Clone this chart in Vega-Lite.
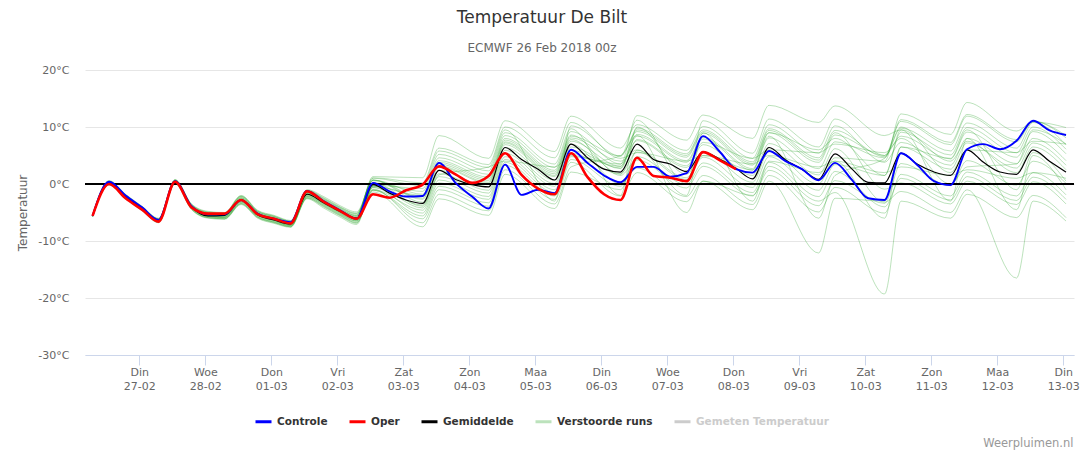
{
  "$schema": "https://vega.github.io/schema/vega-lite/v6.json",
  "width": 989,
  "height": 285,
  "autosize": {"type": "none"},
  "padding": {"left": 85, "top": 70, "right": 10, "bottom": 95},
  "background": "white",
  "config": {"font": "DejaVu Sans", "view": {"stroke": null}},
  "title": {
    "text": "Temperatuur De Bilt",
    "subtitle": "ECMWF 26 Feb 2018 00z",
    "anchor": "middle", "frame": "group", "dx": -37.5, "offset": 9,
    "fontSize": 17, "fontWeight": "normal", "color": "#333333",
    "subtitleFontSize": 12, "subtitleColor": "#666666", "subtitlePadding": 16
  },
  "datasets": {
    "main": [
      {"t":7,"k":"Gemiddelde","v":-5.6},{"t":13,"k":"Gemiddelde","v":0.2},{"t":19,"k":"Gemiddelde","v":-2.2},{"t":25,"k":"Gemiddelde","v":-4.3},{"t":31,"k":"Gemiddelde","v":-6.4},{"t":37,"k":"Gemiddelde","v":0.4},{"t":43,"k":"Gemiddelde","v":-4.0},{"t":49,"k":"Gemiddelde","v":-5.6},{"t":55,"k":"Gemiddelde","v":-5.5},{"t":61,"k":"Gemiddelde","v":-2.8},
      {"t":67,"k":"Gemiddelde","v":-5.4},{"t":73,"k":"Gemiddelde","v":-6.3},{"t":79,"k":"Gemiddelde","v":-7.0},{"t":85,"k":"Gemiddelde","v":-1.8},{"t":91,"k":"Gemiddelde","v":-3.3},{"t":97,"k":"Gemiddelde","v":-4.8},{"t":103,"k":"Gemiddelde","v":-6.0},{"t":109,"k":"Gemiddelde","v":-0.1},{"t":115,"k":"Gemiddelde","v":-1.6},{"t":121,"k":"Gemiddelde","v":-2.8},
      {"t":127,"k":"Gemiddelde","v":-3.4},{"t":133,"k":"Gemiddelde","v":2.4},{"t":139,"k":"Gemiddelde","v":0.8},{"t":145,"k":"Gemiddelde","v":-0.1},{"t":151,"k":"Gemiddelde","v":-0.5},{"t":157,"k":"Gemiddelde","v":6.4},{"t":163,"k":"Gemiddelde","v":4.3},{"t":169,"k":"Gemiddelde","v":2.6},{"t":175,"k":"Gemiddelde","v":0.7},{"t":181,"k":"Gemiddelde","v":7.0},
      {"t":187,"k":"Gemiddelde","v":4.6},{"t":193,"k":"Gemiddelde","v":2.6},{"t":199,"k":"Gemiddelde","v":2.1},{"t":205,"k":"Gemiddelde","v":7.0},{"t":211,"k":"Gemiddelde","v":4.3},{"t":217,"k":"Gemiddelde","v":3.5},{"t":223,"k":"Gemiddelde","v":2.2},{"t":229,"k":"Gemiddelde","v":5.6},{"t":235,"k":"Gemiddelde","v":4.4},{"t":241,"k":"Gemiddelde","v":2.7},
      {"t":247,"k":"Gemiddelde","v":0.9},{"t":253,"k":"Gemiddelde","v":6.4},{"t":259,"k":"Gemiddelde","v":4.2},{"t":265,"k":"Gemiddelde","v":2.6},{"t":271,"k":"Gemiddelde","v":0.8},{"t":277,"k":"Gemiddelde","v":5.3},{"t":283,"k":"Gemiddelde","v":2.7},{"t":289,"k":"Gemiddelde","v":0.3},{"t":295,"k":"Gemiddelde","v":0.2},{"t":301,"k":"Gemiddelde","v":5.4},
      {"t":307,"k":"Gemiddelde","v":3.45},{"t":313,"k":"Gemiddelde","v":2.1},{"t":319,"k":"Gemiddelde","v":1.5},{"t":325,"k":"Gemiddelde","v":6.0},{"t":331,"k":"Gemiddelde","v":3.8},{"t":337,"k":"Gemiddelde","v":2.1},{"t":343,"k":"Gemiddelde","v":1.7},{"t":349,"k":"Gemiddelde","v":6.0},{"t":355,"k":"Gemiddelde","v":4.0},{"t":361,"k":"Gemiddelde","v":2.1},
      {"t":7,"k":"Controle","v":-5.6},{"t":13,"k":"Controle","v":0.4},{"t":19,"k":"Controle","v":-2.0},{"t":25,"k":"Controle","v":-4.1},{"t":31,"k":"Controle","v":-6.3},{"t":37,"k":"Controle","v":0.5},{"t":43,"k":"Controle","v":-3.9},{"t":49,"k":"Controle","v":-5.3},{"t":55,"k":"Controle","v":-5.3},{"t":61,"k":"Controle","v":-2.8},
      {"t":67,"k":"Controle","v":-5.2},{"t":73,"k":"Controle","v":-6.1},{"t":79,"k":"Controle","v":-6.7},{"t":85,"k":"Controle","v":-1.2},{"t":91,"k":"Controle","v":-3.0},{"t":97,"k":"Controle","v":-4.6},{"t":103,"k":"Controle","v":-6.1},{"t":109,"k":"Controle","v":0.2},{"t":115,"k":"Controle","v":-1.3},{"t":121,"k":"Controle","v":-2.2},
      {"t":127,"k":"Controle","v":-2.1},{"t":133,"k":"Controle","v":3.7},{"t":139,"k":"Controle","v":0.2},{"t":145,"k":"Controle","v":-2.2},{"t":151,"k":"Controle","v":-4.3},{"t":157,"k":"Controle","v":3.4},{"t":163,"k":"Controle","v":-1.9},{"t":169,"k":"Controle","v":-1.0},{"t":175,"k":"Controle","v":-1.6},{"t":181,"k":"Controle","v":6.0},
      {"t":187,"k":"Controle","v":3.7},{"t":193,"k":"Controle","v":1.5},{"t":199,"k":"Controle","v":0.3},{"t":205,"k":"Controle","v":3.0},{"t":211,"k":"Controle","v":3.0},{"t":217,"k":"Controle","v":1.3},{"t":223,"k":"Controle","v":1.9},{"t":229,"k":"Controle","v":8.4},{"t":235,"k":"Controle","v":5.7},{"t":241,"k":"Controle","v":2.6},
      {"t":247,"k":"Controle","v":2.0},{"t":253,"k":"Controle","v":5.8},{"t":259,"k":"Controle","v":4.0},{"t":265,"k":"Controle","v":2.6},{"t":271,"k":"Controle","v":0.65},{"t":277,"k":"Controle","v":3.7},{"t":283,"k":"Controle","v":0.8},{"t":289,"k":"Controle","v":-2.5},{"t":295,"k":"Controle","v":-2.8},{"t":301,"k":"Controle","v":5.4},
      {"t":307,"k":"Controle","v":3.3},{"t":313,"k":"Controle","v":0.5},{"t":319,"k":"Controle","v":-0.2},{"t":325,"k":"Controle","v":6.1},{"t":331,"k":"Controle","v":7.0},{"t":337,"k":"Controle","v":6.1},{"t":343,"k":"Controle","v":7.6},{"t":349,"k":"Controle","v":11.1},{"t":355,"k":"Controle","v":9.4},{"t":361,"k":"Controle","v":8.6},
      {"t":7,"k":"Oper","v":-5.6},{"t":13,"k":"Oper","v":0.0},{"t":19,"k":"Oper","v":-2.5},{"t":25,"k":"Oper","v":-4.5},{"t":31,"k":"Oper","v":-6.6},{"t":37,"k":"Oper","v":0.4},{"t":43,"k":"Oper","v":-4.1},{"t":49,"k":"Oper","v":-5.2},{"t":55,"k":"Oper","v":-5.2},{"t":61,"k":"Oper","v":-2.8},
      {"t":67,"k":"Oper","v":-5.3},{"t":73,"k":"Oper","v":-6.1},{"t":79,"k":"Oper","v":-6.9},{"t":85,"k":"Oper","v":-1.3},{"t":91,"k":"Oper","v":-3.1},{"t":97,"k":"Oper","v":-4.7},{"t":103,"k":"Oper","v":-6.1},{"t":109,"k":"Oper","v":-1.8},{"t":115,"k":"Oper","v":-2.4},{"t":121,"k":"Oper","v":-1.1},
      {"t":127,"k":"Oper","v":-0.1},{"t":133,"k":"Oper","v":3.1},{"t":139,"k":"Oper","v":1.7},{"t":145,"k":"Oper","v":0.2},{"t":151,"k":"Oper","v":1.4},{"t":157,"k":"Oper","v":5.4},{"t":163,"k":"Oper","v":1.6},{"t":169,"k":"Oper","v":-0.8},{"t":175,"k":"Oper","v":-1.8},{"t":181,"k":"Oper","v":5.4},
      {"t":187,"k":"Oper","v":1.2},{"t":193,"k":"Oper","v":-1.8},{"t":199,"k":"Oper","v":-2.8},{"t":205,"k":"Oper","v":4.6},{"t":211,"k":"Oper","v":1.4},{"t":217,"k":"Oper","v":1.1},{"t":223,"k":"Oper","v":0.5},{"t":229,"k":"Oper","v":5.6},{"t":235,"k":"Oper","v":4.2},{"t":241,"k":"Oper","v":2.6}
    ],
    "ens": [
      {"t":7,"m":1,"v":-5.5},{"t":13,"m":1,"v":0.3},{"t":31,"m":1,"v":-6.2},{"t":37,"m":1,"v":0.5},{"t":55,"m":1,"v":-5.3},{"t":61,"m":1,"v":-2.4},{"t":79,"m":1,"v":-6.7},{"t":85,"m":1,"v":-1.4},{"t":103,"m":1,"v":-5.5},{"t":109,"m":1,"v":1.0},{"t":127,"m":1,"v":-0.3},{"t":133,"m":1,"v":5.8},{"t":151,"m":1,"v":2.9},{"t":157,"m":1,"v":9.5},{"t":175,"m":1,"v":-3.0},{"t":181,"m":1,"v":10.2},{"t":199,"m":1,"v":4.9},{"t":205,"m":1,"v":9.2},{"t":223,"m":1,"v":4.7},{"t":229,"m":1,"v":8.9},{"t":247,"m":1,"v":3.3},{"t":253,"m":1,"v":9.0},{"t":271,"m":1,"v":3.8},{"t":277,"m":1,"v":8.6},{"t":295,"m":1,"v":5.0},{"t":301,"m":1,"v":11.0},{"t":319,"m":1,"v":6.9},{"t":325,"m":1,"v":11.9},{"t":343,"m":1,"v":7.4},{"t":349,"m":1,"v":11.0},{"t":361,"m":1,"v":8.1},
      {"t":7,"m":2,"v":-5.7},{"t":13,"m":2,"v":0.1},{"t":31,"m":2,"v":-6.6},{"t":37,"m":2,"v":0.2},{"t":55,"m":2,"v":-5.9},{"t":61,"m":2,"v":-3.2},{"t":79,"m":2,"v":-7.3},{"t":85,"m":2,"v":-2.2},{"t":103,"m":2,"v":-6.5},{"t":109,"m":2,"v":-1.1},{"t":127,"m":2,"v":-5.6},{"t":133,"m":2,"v":-0.4},{"t":151,"m":2,"v":-3.3},{"t":157,"m":2,"v":3.8},{"t":175,"m":2,"v":-2.1},{"t":181,"m":2,"v":4.3},{"t":199,"m":2,"v":-0.4},{"t":205,"m":2,"v":4.8},{"t":223,"m":2,"v":-0.1},{"t":229,"m":2,"v":3.7},{"t":247,"m":2,"v":-1.5},{"t":253,"m":2,"v":3.8},{"t":271,"m":2,"v":-2.2},{"t":277,"m":2,"v":2.2},{"t":295,"m":2,"v":-4.0},{"t":301,"m":2,"v":1.0},{"t":319,"m":2,"v":-2.8},{"t":325,"m":2,"v":1.3},{"t":343,"m":2,"v":-2.9},{"t":349,"m":2,"v":1.2},{"t":361,"m":2,"v":-2.7},
      {"t":7,"m":3,"v":-5.5},{"t":13,"m":3,"v":0.5},{"t":31,"m":3,"v":-6.1},{"t":37,"m":3,"v":0.7},{"t":55,"m":3,"v":-5.1},{"t":61,"m":3,"v":-2.1},{"t":79,"m":3,"v":-6.5},{"t":85,"m":3,"v":-1.1},{"t":103,"m":3,"v":-5.1},{"t":109,"m":3,"v":0.7},{"t":127,"m":3,"v":-2.5},{"t":133,"m":3,"v":3.2},{"t":151,"m":3,"v":0.3},{"t":157,"m":3,"v":7.2},{"t":175,"m":3,"v":1.5},{"t":181,"m":3,"v":7.8},{"t":199,"m":3,"v":1.8},{"t":205,"m":3,"v":5.6},{"t":223,"m":3,"v":0.8},{"t":229,"m":3,"v":4.7},{"t":247,"m":3,"v":-0.6},{"t":253,"m":3,"v":4.8},{"t":271,"m":3,"v":-1.1},{"t":277,"m":3,"v":3.4},{"t":295,"m":3,"v":1.5},{"t":301,"m":3,"v":9.5},{"t":319,"m":3,"v":-3.0},{"t":325,"m":3,"v":8.0},{"t":343,"m":3,"v":-4.5},{"t":349,"m":3,"v":5.0},{"t":361,"m":3,"v":-1.0},
      {"t":7,"m":4,"v":-5.7},{"t":13,"m":4,"v":-0.1},{"t":31,"m":4,"v":-6.7},{"t":37,"m":4,"v":0.1},{"t":55,"m":4,"v":-6.1},{"t":61,"m":4,"v":-3.5},{"t":79,"m":4,"v":-7.5},{"t":85,"m":4,"v":-2.5},{"t":103,"m":4,"v":-6.9},{"t":109,"m":4,"v":-0.4},{"t":127,"m":4,"v":-2.0},{"t":133,"m":4,"v":3.8},{"t":151,"m":4,"v":0.9},{"t":157,"m":4,"v":7.7},{"t":175,"m":4,"v":2.1},{"t":181,"m":4,"v":8.4},{"t":199,"m":4,"v":4.9},{"t":205,"m":4,"v":11.2},{"t":223,"m":4,"v":0.0},{"t":229,"m":4,"v":11.1},{"t":247,"m":4,"v":5.4},{"t":253,"m":4,"v":11.4},{"t":271,"m":4,"v":6.5},{"t":277,"m":4,"v":11.4},{"t":295,"m":4,"v":5.0},{"t":301,"m":4,"v":8.4},{"t":319,"m":4,"v":4.4},{"t":325,"m":4,"v":9.1},{"t":343,"m":4,"v":4.7},{"t":349,"m":4,"v":9.2},{"t":361,"m":4,"v":5.3},
      {"t":7,"m":5,"v":-5.6},{"t":13,"m":5,"v":0.3},{"t":31,"m":5,"v":-6.3},{"t":37,"m":5,"v":0.5},{"t":55,"m":5,"v":-5.5},{"t":61,"m":5,"v":-2.7},{"t":79,"m":5,"v":-6.9},{"t":85,"m":5,"v":-1.7},{"t":103,"m":5,"v":-5.8},{"t":109,"m":5,"v":-0.9},{"t":127,"m":5,"v":-6.8},{"t":133,"m":5,"v":-1.8},{"t":151,"m":5,"v":-4.7},{"t":157,"m":5,"v":2.5},{"t":175,"m":5,"v":-3.5},{"t":181,"m":5,"v":3.0},{"t":199,"m":5,"v":5.0},{"t":205,"m":5,"v":8.5},{"t":223,"m":5,"v":-5.0},{"t":229,"m":5,"v":0.5},{"t":247,"m":5,"v":-2.0},{"t":253,"m":5,"v":2.4},{"t":271,"m":5,"v":-3.8},{"t":277,"m":5,"v":0.6},{"t":295,"m":5,"v":-3.4},{"t":301,"m":5,"v":3.6},{"t":319,"m":5,"v":-0.3},{"t":325,"m":5,"v":4.1},{"t":343,"m":5,"v":-0.2},{"t":349,"m":5,"v":4.0},{"t":361,"m":5,"v":0.1},
      {"t":7,"m":6,"v":-5.6},{"t":13,"m":6,"v":0.1},{"t":31,"m":6,"v":-6.5},{"t":37,"m":6,"v":0.3},{"t":55,"m":6,"v":-5.8},{"t":61,"m":6,"v":-3.0},{"t":79,"m":6,"v":-7.2},{"t":85,"m":6,"v":-2.0},{"t":103,"m":6,"v":-6.3},{"t":109,"m":6,"v":0.2},{"t":127,"m":6,"v":-1.3},{"t":133,"m":6,"v":4.6},{"t":151,"m":6,"v":1.7},{"t":157,"m":6,"v":8.5},{"t":175,"m":6,"v":2.9},{"t":181,"m":6,"v":9.2},{"t":199,"m":6,"v":3.5},{"t":205,"m":6,"v":7.6},{"t":223,"m":6,"v":2.9},{"t":229,"m":6,"v":6.9},{"t":247,"m":6,"v":1.5},{"t":253,"m":6,"v":7.1},{"t":271,"m":6,"v":1.6},{"t":277,"m":6,"v":6.2},{"t":295,"m":6,"v":-3.2},{"t":301,"m":6,"v":-1.3},{"t":319,"m":6,"v":-5.0},{"t":325,"m":6,"v":-1.0},{"t":343,"m":6,"v":-16.5},{"t":349,"m":6,"v":-3.0},{"t":361,"m":6,"v":-6.5},
      {"t":7,"m":7,"v":-5.5},{"t":13,"m":7,"v":0.4},{"t":31,"m":7,"v":-6.2},{"t":37,"m":7,"v":0.6},{"t":55,"m":7,"v":-5.2},{"t":61,"m":7,"v":-2.2},{"t":79,"m":7,"v":-6.6},{"t":85,"m":7,"v":-1.2},{"t":103,"m":7,"v":-5.3},{"t":109,"m":7,"v":0.2},{"t":127,"m":7,"v":-3.9},{"t":133,"m":7,"v":1.6},{"t":151,"m":7,"v":3.0},{"t":157,"m":7,"v":4.0},{"t":175,"m":7,"v":3.0},{"t":181,"m":7,"v":5.0},{"t":199,"m":7,"v":3.1},{"t":205,"m":7,"v":9.8},{"t":223,"m":7,"v":5.3},{"t":229,"m":7,"v":9.5},{"t":247,"m":7,"v":3.9},{"t":253,"m":7,"v":9.7},{"t":271,"m":7,"v":4.6},{"t":277,"m":7,"v":9.4},{"t":295,"m":7,"v":4.8},{"t":301,"m":7,"v":9.8},{"t":319,"m":7,"v":5.8},{"t":325,"m":7,"v":10.7},{"t":343,"m":7,"v":6.3},{"t":349,"m":7,"v":10.8},{"t":361,"m":7,"v":6.9},
      {"t":7,"m":8,"v":-5.7},{"t":13,"m":8,"v":0.0},{"t":31,"m":8,"v":-6.6},{"t":37,"m":8,"v":0.2},{"t":55,"m":8,"v":-6.0},{"t":61,"m":8,"v":-3.4},{"t":79,"m":8,"v":-7.4},{"t":85,"m":8,"v":-2.4},{"t":103,"m":8,"v":-6.7},{"t":109,"m":8,"v":-1.0},{"t":127,"m":8,"v":-4.6},{"t":133,"m":8,"v":0.7},{"t":151,"m":8,"v":-2.2},{"t":157,"m":8,"v":4.8},{"t":175,"m":8,"v":-1.0},{"t":181,"m":8,"v":5.4},{"t":199,"m":8,"v":1.7},{"t":205,"m":8,"v":7.8},{"t":223,"m":8,"v":3.2},{"t":229,"m":8,"v":7.3},{"t":247,"m":8,"v":4.5},{"t":253,"m":8,"v":6.0},{"t":271,"m":8,"v":5.5},{"t":277,"m":8,"v":7.0},{"t":295,"m":8,"v":5.5},{"t":301,"m":8,"v":8.0},{"t":319,"m":8,"v":0.0},{"t":325,"m":8,"v":3.0},{"t":343,"m":8,"v":3.5},{"t":349,"m":8,"v":9.5},{"t":361,"m":8,"v":7.0},
      {"t":7,"m":9,"v":-5.6},{"t":13,"m":9,"v":0.3},{"t":31,"m":9,"v":-6.3},{"t":37,"m":9,"v":0.5},{"t":55,"m":9,"v":-5.5},{"t":61,"m":9,"v":-2.6},{"t":79,"m":9,"v":-6.9},{"t":85,"m":9,"v":-1.6},{"t":103,"m":9,"v":-5.7},{"t":109,"m":9,"v":1.3},{"t":127,"m":9,"v":1.1},{"t":133,"m":9,"v":8.5},{"t":151,"m":9,"v":4.5},{"t":157,"m":9,"v":11.1},{"t":175,"m":9,"v":5.7},{"t":181,"m":9,"v":11.9},{"t":199,"m":9,"v":6.3},{"t":205,"m":9,"v":10.4},{"t":223,"m":9,"v":5.9},{"t":229,"m":9,"v":10.1},{"t":247,"m":9,"v":4.5},{"t":253,"m":9,"v":10.4},{"t":271,"m":9,"v":5.4},{"t":277,"m":9,"v":10.2},{"t":295,"m":9,"v":3.8},{"t":301,"m":9,"v":7.3},{"t":319,"m":9,"v":3.3},{"t":325,"m":9,"v":8.0},{"t":343,"m":9,"v":3.6},{"t":349,"m":9,"v":8.0},{"t":361,"m":9,"v":4.1},
      {"t":7,"m":10,"v":-5.6},{"t":13,"m":10,"v":0.1},{"t":31,"m":10,"v":-6.5},{"t":37,"m":10,"v":0.3},{"t":55,"m":10,"v":-5.7},{"t":61,"m":10,"v":-2.9},{"t":79,"m":10,"v":-7.1},{"t":85,"m":10,"v":-1.9},{"t":103,"m":10,"v":-6.2},{"t":109,"m":10,"v":-1.4},{"t":127,"m":10,"v":-7.5},{"t":133,"m":10,"v":-2.6},{"t":151,"m":10,"v":-5.5},{"t":157,"m":10,"v":1.7},{"t":175,"m":10,"v":-4.3},{"t":181,"m":10,"v":2.1},{"t":199,"m":10,"v":-1.0},{"t":205,"m":10,"v":5.9},{"t":223,"m":10,"v":1.1},{"t":229,"m":10,"v":5.0},{"t":247,"m":10,"v":2.5},{"t":253,"m":10,"v":9.0},{"t":271,"m":10,"v":6.0},{"t":277,"m":10,"v":8.0},{"t":295,"m":10,"v":1.5},{"t":301,"m":10,"v":9.1},{"t":319,"m":10,"v":5.1},{"t":325,"m":10,"v":9.9},{"t":343,"m":10,"v":5.5},{"t":349,"m":10,"v":10.0},{"t":361,"m":10,"v":6.1},
      {"t":7,"m":11,"v":-5.5},{"t":13,"m":11,"v":0.6},{"t":31,"m":11,"v":-6.0},{"t":37,"m":11,"v":0.8},{"t":55,"m":11,"v":-5.0},{"t":61,"m":11,"v":-2.0},{"t":79,"m":11,"v":-6.4},{"t":85,"m":11,"v":-1.0},{"t":103,"m":11,"v":-4.9},{"t":109,"m":11,"v":0.7},{"t":127,"m":11,"v":-3.2},{"t":133,"m":11,"v":2.4},{"t":151,"m":11,"v":-0.5},{"t":157,"m":11,"v":6.4},{"t":175,"m":11,"v":0.7},{"t":181,"m":11,"v":7.0},{"t":199,"m":11,"v":0.0},{"t":205,"m":11,"v":2.8},{"t":223,"m":11,"v":-2.2},{"t":229,"m":11,"v":1.5},{"t":247,"m":11,"v":-3.6},{"t":253,"m":11,"v":1.5},{"t":271,"m":11,"v":-4.9},{"t":277,"m":11,"v":-0.6},{"t":295,"m":11,"v":-5.1},{"t":301,"m":11,"v":1.7},{"t":319,"m":11,"v":-2.1},{"t":325,"m":11,"v":2.1},{"t":343,"m":11,"v":-2.1},{"t":349,"m":11,"v":2.0},{"t":361,"m":11,"v":-1.9},
      {"t":7,"m":12,"v":-5.7},{"t":13,"m":12,"v":-0.2},{"t":31,"m":12,"v":-6.8},{"t":37,"m":12,"v":0.0},{"t":55,"m":12,"v":-6.2},{"t":61,"m":12,"v":-3.6},{"t":79,"m":12,"v":-7.6},{"t":85,"m":12,"v":-2.6},{"t":103,"m":12,"v":-7.1},{"t":109,"m":12,"v":-0.2},{"t":127,"m":12,"v":-0.8},{"t":133,"m":12,"v":5.2},{"t":151,"m":12,"v":2.3},{"t":157,"m":12,"v":9.0},{"t":175,"m":12,"v":3.5},{"t":181,"m":12,"v":9.7},{"t":199,"m":12,"v":-2.0},{"t":205,"m":12,"v":10.0},{"t":223,"m":12,"v":1.7},{"t":229,"m":12,"v":5.7},{"t":247,"m":12,"v":0.3},{"t":253,"m":12,"v":5.7},{"t":271,"m":12,"v":0.0},{"t":277,"m":12,"v":4.6},{"t":295,"m":12,"v":4.0},{"t":301,"m":12,"v":12.3},{"t":319,"m":12,"v":8.7},{"t":325,"m":12,"v":14.3},{"t":343,"m":12,"v":9.3},{"t":349,"m":12,"v":10.9},{"t":361,"m":12,"v":9.9},
      {"t":7,"m":13,"v":-5.6},{"t":13,"m":13,"v":0.2},{"t":31,"m":13,"v":-6.4},{"t":37,"m":13,"v":0.4},{"t":55,"m":13,"v":-5.6},{"t":61,"m":13,"v":-2.8},{"t":79,"m":13,"v":-7.0},{"t":85,"m":13,"v":-1.8},{"t":103,"m":13,"v":-6.0},{"t":109,"m":13,"v":-0.6},{"t":127,"m":13,"v":-5.1},{"t":133,"m":13,"v":0.2},{"t":151,"m":13,"v":-2.7},{"t":157,"m":13,"v":4.3},{"t":175,"m":13,"v":-1.5},{"t":181,"m":13,"v":4.8},{"t":199,"m":13,"v":3.5},{"t":205,"m":13,"v":12.0},{"t":223,"m":13,"v":7.7},{"t":229,"m":13,"v":12.1},{"t":247,"m":13,"v":8.0},{"t":253,"m":13,"v":13.8},{"t":271,"m":13,"v":10.8},{"t":277,"m":13,"v":13.7},{"t":295,"m":13,"v":8.5},{"t":301,"m":13,"v":9.5},{"t":319,"m":13,"v":4.0},{"t":325,"m":13,"v":7.5},{"t":343,"m":13,"v":2.0},{"t":349,"m":13,"v":6.5},{"t":361,"m":13,"v":2.5},
      {"t":7,"m":14,"v":-5.5},{"t":13,"m":14,"v":0.4},{"t":31,"m":14,"v":-6.2},{"t":37,"m":14,"v":0.6},{"t":55,"m":14,"v":-5.3},{"t":61,"m":14,"v":-2.4},{"t":79,"m":14,"v":-6.7},{"t":85,"m":14,"v":-1.4},{"t":103,"m":14,"v":-5.5},{"t":109,"m":14,"v":0.7},{"t":127,"m":14,"v":-1.8},{"t":133,"m":14,"v":4.1},{"t":151,"m":14,"v":1.2},{"t":157,"m":14,"v":8.0},{"t":175,"m":14,"v":2.4},{"t":181,"m":14,"v":8.6},{"t":199,"m":14,"v":1.5},{"t":205,"m":14,"v":4.2},{"t":223,"m":14,"v":-0.7},{"t":229,"m":14,"v":3.1},{"t":247,"m":14,"v":-2.1},{"t":253,"m":14,"v":3.1},{"t":271,"m":14,"v":-3.0},{"t":277,"m":14,"v":-1.5},{"t":295,"m":14,"v":-19.3},{"t":301,"m":14,"v":-3.0},{"t":319,"m":14,"v":-6.0},{"t":325,"m":14,"v":-1.8},{"t":343,"m":14,"v":-5.9},{"t":349,"m":14,"v":-2.0},{"t":361,"m":14,"v":-5.9},
      {"t":7,"m":15,"v":-5.7},{"t":13,"m":15,"v":0.0},{"t":31,"m":15,"v":-6.6},{"t":37,"m":15,"v":0.2},{"t":55,"m":15,"v":-5.9},{"t":61,"m":15,"v":-3.2},{"t":79,"m":15,"v":-7.3},{"t":85,"m":15,"v":-2.2},{"t":103,"m":15,"v":-6.5},{"t":109,"m":15,"v":-0.6},{"t":127,"m":15,"v":-3.7},{"t":133,"m":15,"v":1.8},{"t":151,"m":15,"v":-1.1},{"t":157,"m":15,"v":5.9},{"t":175,"m":15,"v":0.1},{"t":181,"m":15,"v":6.5},{"t":199,"m":15,"v":2.7},{"t":205,"m":15,"v":8.7},{"t":223,"m":15,"v":4.1},{"t":229,"m":15,"v":8.2},{"t":247,"m":15,"v":2.7},{"t":253,"m":15,"v":8.4},{"t":271,"m":15,"v":-6.0},{"t":277,"m":15,"v":1.5},{"t":295,"m":15,"v":4.5},{"t":301,"m":15,"v":10.0},{"t":319,"m":15,"v":2.0},{"t":325,"m":15,"v":6.0},{"t":343,"m":15,"v":5.5},{"t":349,"m":15,"v":7.5},{"t":361,"m":15,"v":7.0},
      {"t":7,"m":16,"v":-5.6},{"t":13,"m":16,"v":0.3},{"t":31,"m":16,"v":-6.3},{"t":37,"m":16,"v":0.5},{"t":55,"m":16,"v":-5.4},{"t":61,"m":16,"v":-2.5},{"t":79,"m":16,"v":-6.8},{"t":85,"m":16,"v":-1.5},{"t":103,"m":16,"v":-5.6},{"t":109,"m":16,"v":1.1},{"t":127,"m":16,"v":0.2},{"t":133,"m":16,"v":6.3},{"t":151,"m":16,"v":3.4},{"t":157,"m":16,"v":10.0},{"t":175,"m":16,"v":4.6},{"t":181,"m":16,"v":10.8},{"t":199,"m":16,"v":4.5},{"t":205,"m":16,"v":5.5},{"t":223,"m":16,"v":4.0},{"t":229,"m":16,"v":5.0},{"t":247,"m":16,"v":3.5},{"t":253,"m":16,"v":5.0},{"t":271,"m":16,"v":3.0},{"t":277,"m":16,"v":4.0},{"t":295,"m":16,"v":2.0},{"t":301,"m":16,"v":3.0},{"t":319,"m":16,"v":1.5},{"t":325,"m":16,"v":2.5},{"t":343,"m":16,"v":1.0},{"t":349,"m":16,"v":2.0},{"t":361,"m":16,"v":1.0},
      {"t":7,"m":17,"v":-5.6},{"t":13,"m":17,"v":0.1},{"t":31,"m":17,"v":-6.5},{"t":37,"m":17,"v":0.3},{"t":55,"m":17,"v":-5.8},{"t":61,"m":17,"v":-3.1},{"t":79,"m":17,"v":-7.2},{"t":85,"m":17,"v":-2.1},{"t":103,"m":17,"v":-6.4},{"t":109,"m":17,"v":-1.1},{"t":127,"m":17,"v":-6.1},{"t":133,"m":17,"v":-1.0},{"t":151,"m":17,"v":-3.9},{"t":157,"m":17,"v":3.3},{"t":175,"m":17,"v":-2.7},{"t":181,"m":17,"v":3.8},{"t":199,"m":17,"v":-2.1},{"t":205,"m":17,"v":2.0},{"t":223,"m":17,"v":-3.1},{"t":229,"m":17,"v":0.5},{"t":247,"m":17,"v":-4.5},{"t":253,"m":17,"v":0.5},{"t":271,"m":17,"v":-12.1},{"t":277,"m":17,"v":-2.5},{"t":295,"m":17,"v":-3.0},{"t":301,"m":17,"v":6.5},{"t":319,"m":17,"v":2.6},{"t":325,"m":17,"v":7.2},{"t":343,"m":17,"v":2.8},{"t":349,"m":17,"v":7.2},{"t":361,"m":17,"v":3.3},
      {"t":7,"m":18,"v":-5.5},{"t":13,"m":18,"v":0.5},{"t":31,"m":18,"v":-6.1},{"t":37,"m":18,"v":0.7},{"t":55,"m":18,"v":-5.2},{"t":61,"m":18,"v":-2.2},{"t":79,"m":18,"v":-6.5},{"t":85,"m":18,"v":-1.2},{"t":103,"m":18,"v":-5.2},{"t":109,"m":18,"v":0.6},{"t":127,"m":18,"v":-2.7},{"t":133,"m":18,"v":3.0},{"t":151,"m":18,"v":0.1},{"t":157,"m":18,"v":6.9},{"t":175,"m":18,"v":1.3},{"t":181,"m":18,"v":7.5},{"t":199,"m":18,"v":3.1},{"t":205,"m":18,"v":8.4},{"t":223,"m":18,"v":3.8},{"t":229,"m":18,"v":7.9},{"t":247,"m":18,"v":2.4},{"t":253,"m":18,"v":8.1},{"t":271,"m":18,"v":2.7},{"t":277,"m":18,"v":7.4},{"t":295,"m":18,"v":4.6},{"t":301,"m":18,"v":11.3},{"t":319,"m":18,"v":7.3},{"t":325,"m":18,"v":12.2},{"t":343,"m":18,"v":7.8},{"t":349,"m":18,"v":11.0},{"t":361,"m":18,"v":8.5},
      {"t":7,"m":19,"v":-5.7},{"t":13,"m":19,"v":-0.1},{"t":31,"m":19,"v":-6.7},{"t":37,"m":19,"v":0.1},{"t":55,"m":19,"v":-6.1},{"t":61,"m":19,"v":-3.4},{"t":79,"m":19,"v":-7.5},{"t":85,"m":19,"v":-2.4},{"t":103,"m":19,"v":-6.8},{"t":109,"m":19,"v":-0.4},{"t":127,"m":19,"v":-2.2},{"t":133,"m":19,"v":3.5},{"t":151,"m":19,"v":0.6},{"t":157,"m":19,"v":7.4},{"t":175,"m":19,"v":1.8},{"t":181,"m":19,"v":8.1},{"t":199,"m":19,"v":4.0},{"t":205,"m":19,"v":6.0},{"t":223,"m":19,"v":-2.0},{"t":229,"m":19,"v":9.0},{"t":247,"m":19,"v":-3.0},{"t":253,"m":19,"v":4.0},{"t":271,"m":19,"v":2.0},{"t":277,"m":19,"v":4.0},{"t":295,"m":19,"v":-6.0},{"t":301,"m":19,"v":6.5},{"t":319,"m":19,"v":4.5},{"t":325,"m":19,"v":9.5},{"t":343,"m":19,"v":-1.0},{"t":349,"m":19,"v":5.5},{"t":361,"m":19,"v":0.5},
      {"t":7,"m":20,"v":-5.6},{"t":13,"m":20,"v":0.2},{"t":31,"m":20,"v":-6.4},{"t":37,"m":20,"v":0.4},{"t":55,"m":20,"v":-5.6},{"t":61,"m":20,"v":-2.7},{"t":79,"m":20,"v":-7.0},{"t":85,"m":20,"v":-1.7},{"t":103,"m":20,"v":-5.9},{"t":109,"m":20,"v":-0.3},{"t":127,"m":20,"v":-4.2},{"t":133,"m":20,"v":1.3},{"t":151,"m":20,"v":-1.6},{"t":157,"m":20,"v":5.4},{"t":175,"m":20,"v":-0.4},{"t":181,"m":20,"v":5.9},{"t":199,"m":20,"v":2.8},{"t":205,"m":20,"v":9.5},{"t":223,"m":20,"v":5.0},{"t":229,"m":20,"v":9.2},{"t":247,"m":20,"v":3.6},{"t":253,"m":20,"v":9.4},{"t":271,"m":20,"v":4.2},{"t":277,"m":20,"v":9.0},{"t":295,"m":20,"v":-0.9},{"t":301,"m":20,"v":0.2},{"t":319,"m":20,"v":-3.5},{"t":325,"m":20,"v":0.5},{"t":343,"m":20,"v":-3.6},{"t":349,"m":20,"v":0.4},{"t":361,"m":20,"v":-3.5},
      {"t":19,"m":1,"v":-2.0},{"t":19,"m":2,"v":-2.4},{"t":19,"m":3,"v":-1.9},{"t":19,"m":4,"v":-2.5},{"t":19,"m":5,"v":-2.1},{"t":19,"m":6,"v":-2.3},{"t":19,"m":7,"v":-2.0},{"t":19,"m":8,"v":-2.4},{"t":19,"m":9,"v":-2.1},{"t":19,"m":10,"v":-2.3},{"t":19,"m":11,"v":-1.8},{"t":19,"m":12,"v":-2.6},{"t":19,"m":13,"v":-2.2},{"t":19,"m":14,"v":-2.0},{"t":19,"m":15,"v":-2.4},{"t":19,"m":16,"v":-2.1},{"t":19,"m":17,"v":-2.3},{"t":19,"m":18,"v":-1.9},{"t":19,"m":19,"v":-2.5},{"t":19,"m":20,"v":-2.2},
      {"t":25,"m":1,"v":-4.2},{"t":25,"m":2,"v":-4.5},{"t":25,"m":3,"v":-4.0},{"t":25,"m":4,"v":-4.6},{"t":25,"m":5,"v":-4.2},{"t":25,"m":6,"v":-4.4},{"t":25,"m":7,"v":-4.1},{"t":25,"m":8,"v":-4.5},{"t":25,"m":9,"v":-4.2},{"t":25,"m":10,"v":-4.4},{"t":25,"m":11,"v":-3.9},{"t":25,"m":12,"v":-4.7},{"t":25,"m":13,"v":-4.3},{"t":25,"m":14,"v":-4.1},{"t":25,"m":15,"v":-4.5},{"t":25,"m":16,"v":-4.2},{"t":25,"m":17,"v":-4.4},{"t":25,"m":18,"v":-4.0},{"t":25,"m":19,"v":-4.6},{"t":25,"m":20,"v":-4.3},
      {"t":43,"m":1,"v":-3.8},{"t":43,"m":2,"v":-4.2},{"t":43,"m":3,"v":-3.6},{"t":43,"m":4,"v":-4.4},{"t":43,"m":5,"v":-3.9},{"t":43,"m":6,"v":-4.1},{"t":43,"m":7,"v":-3.7},{"t":43,"m":8,"v":-4.3},{"t":43,"m":9,"v":-3.9},{"t":43,"m":10,"v":-4.1},{"t":43,"m":11,"v":-3.5},{"t":43,"m":12,"v":-4.5},{"t":43,"m":13,"v":-4.0},{"t":43,"m":14,"v":-3.8},{"t":43,"m":15,"v":-4.2},{"t":43,"m":16,"v":-3.8},{"t":43,"m":17,"v":-4.2},{"t":43,"m":18,"v":-3.6},{"t":43,"m":19,"v":-4.4},{"t":43,"m":20,"v":-4.0},
      {"t":49,"m":1,"v":-5.2},{"t":49,"m":2,"v":-5.7},{"t":49,"m":3,"v":-4.9},{"t":49,"m":4,"v":-5.9},{"t":49,"m":5,"v":-5.3},{"t":49,"m":6,"v":-5.6},{"t":49,"m":7,"v":-5.0},{"t":49,"m":8,"v":-5.8},{"t":49,"m":9,"v":-5.3},{"t":49,"m":10,"v":-5.5},{"t":49,"m":11,"v":-4.8},{"t":49,"m":12,"v":-6.0},{"t":49,"m":13,"v":-5.4},{"t":49,"m":14,"v":-5.1},{"t":49,"m":15,"v":-5.7},{"t":49,"m":16,"v":-5.2},{"t":49,"m":17,"v":-5.6},{"t":49,"m":18,"v":-5.0},{"t":49,"m":19,"v":-5.9},{"t":49,"m":20,"v":-5.4},
      {"t":67,"m":1,"v":-5.0},{"t":67,"m":2,"v":-5.6},{"t":67,"m":3,"v":-4.7},{"t":67,"m":4,"v":-5.9},{"t":67,"m":5,"v":-5.2},{"t":67,"m":6,"v":-5.5},{"t":67,"m":7,"v":-4.8},{"t":67,"m":8,"v":-5.8},{"t":67,"m":9,"v":-5.1},{"t":67,"m":10,"v":-5.4},{"t":67,"m":11,"v":-4.6},{"t":67,"m":12,"v":-6.0},{"t":67,"m":13,"v":-5.3},{"t":67,"m":14,"v":-4.9},{"t":67,"m":15,"v":-5.7},{"t":67,"m":16,"v":-5.1},{"t":67,"m":17,"v":-5.5},{"t":67,"m":18,"v":-4.8},{"t":67,"m":19,"v":-5.8},{"t":67,"m":20,"v":-5.2},
      {"t":73,"m":1,"v":-5.9},{"t":73,"m":2,"v":-6.5},{"t":73,"m":3,"v":-5.6},{"t":73,"m":4,"v":-6.8},{"t":73,"m":5,"v":-6.1},{"t":73,"m":6,"v":-6.4},{"t":73,"m":7,"v":-5.7},{"t":73,"m":8,"v":-6.7},{"t":73,"m":9,"v":-6.0},{"t":73,"m":10,"v":-6.3},{"t":73,"m":11,"v":-5.5},{"t":73,"m":12,"v":-6.9},{"t":73,"m":13,"v":-6.2},{"t":73,"m":14,"v":-5.8},{"t":73,"m":15,"v":-6.6},{"t":73,"m":16,"v":-6.0},{"t":73,"m":17,"v":-6.4},{"t":73,"m":18,"v":-5.7},{"t":73,"m":19,"v":-6.7},{"t":73,"m":20,"v":-6.1},
      {"t":91,"m":1,"v":-2.8},{"t":91,"m":2,"v":-3.6},{"t":91,"m":3,"v":-2.4},{"t":91,"m":4,"v":-4.0},{"t":91,"m":5,"v":-3.0},{"t":91,"m":6,"v":-3.4},{"t":91,"m":7,"v":-2.6},{"t":91,"m":8,"v":-3.8},{"t":91,"m":9,"v":-3.0},{"t":91,"m":10,"v":-3.4},{"t":91,"m":11,"v":-2.2},{"t":91,"m":12,"v":-4.2},{"t":91,"m":13,"v":-3.2},{"t":91,"m":14,"v":-2.7},{"t":91,"m":15,"v":-3.7},{"t":91,"m":16,"v":-2.9},{"t":91,"m":17,"v":-3.5},{"t":91,"m":18,"v":-2.5},{"t":91,"m":19,"v":-3.9},{"t":91,"m":20,"v":-3.1},
      {"t":97,"m":1,"v":-4.4},{"t":97,"m":2,"v":-5.2},{"t":97,"m":3,"v":-4.0},{"t":97,"m":4,"v":-5.6},{"t":97,"m":5,"v":-4.6},{"t":97,"m":6,"v":-5.0},{"t":97,"m":7,"v":-4.2},{"t":97,"m":8,"v":-5.4},{"t":97,"m":9,"v":-4.6},{"t":97,"m":10,"v":-5.0},{"t":97,"m":11,"v":-3.8},{"t":97,"m":12,"v":-5.8},{"t":97,"m":13,"v":-4.8},{"t":97,"m":14,"v":-4.3},{"t":97,"m":15,"v":-5.3},{"t":97,"m":16,"v":-4.5},{"t":97,"m":17,"v":-5.1},{"t":97,"m":18,"v":-4.1},{"t":97,"m":19,"v":-5.5},{"t":97,"m":20,"v":-4.7}
    ]
  },
  "layer": [
    {
      "data": {"name": "ens"},
      "mark": {"type": "line", "interpolate": "monotone", "strokeWidth": 1},
      "encoding": {
        "x": {
          "field": "t", "type": "quantitative",
          "scale": {"domain": [4.25, 363.9], "nice": false, "zero": false},
          "axis": {
            "values": [24, 48, 72, 96, 120, 144, 168, 192, 216, 240, 264, 288, 312, 336, 360],
            "labelExpr": "[['Din','Woe','Don','Vri','Zat','Zon','Maa'][(datum.value / 24 - 1) % 7], ['27-02','28-02','01-03','02-03','03-03','04-03','05-03','06-03','07-03','08-03','09-03','10-03','11-03','12-03','13-03'][datum.value / 24 - 1]]",
            "grid": false, "domainColor": "#ccd6eb", "tickColor": "#ccd6eb", "tickSize": 10,
            "labelColor": "#666666", "labelFontSize": 11, "labelPadding": 1, "labelLineHeight": 14,
            "labelAngle": 0, "labelFlush": false, "labelOverlap": false,
            "title": "Weerpluimen.nl", "titleX": 988, "titleY": 88, "titleAlign": "right",
            "titleBaseline": "middle", "titleColor": "#999999", "titleFontSize": 11.5, "titleFontWeight": "normal"
          }
        },
        "y": {
          "field": "v", "type": "quantitative",
          "scale": {"domain": [-30, 20], "nice": false},
          "axis": {
            "values": [-30, -20, -10, 0, 10, 20],
            "labelExpr": "datum.value + '°C'",
            "grid": true, "gridColor": "#e6e6e6", "domain": false, "ticks": false,
            "labelPadding": 16, "labelColor": "#666666", "labelFontSize": 11,
            "title": "Temperatuur", "titleX": -63, "titleY": 142.5, "titleAngle": -90,
            "titleAlign": "center", "titleBaseline": "middle",
            "titleColor": "#666666", "titleFontSize": 12, "titleFontWeight": "normal"
          }
        },
        "detail": {"field": "m", "type": "nominal"},
        "color": {
          "datum": "Verstoorde runs", "type": "nominal",
          "scale": {
            "domain": ["Controle", "Oper", "Gemiddelde", "Verstoorde runs", "Gemeten Temperatuur"],
            "range": ["#0000ff", "#ff0000", "#000000", "rgba(34,160,34,0.3)", "#cccccc"]
          },
          "legend": {
            "orient": "none", "legendX": 169, "legendY": 342, "direction": "horizontal",
            "title": null, "symbolType": "stroke", "symbolSize": 256, "symbolStrokeWidth": 3,
            "labelFontSize": 10.5, "labelFontWeight": "bold", "labelColor": "#333333",
            "columnPadding": 15, "labelOffset": 4, "padding": 0,
            "encode": {
              "labels": {"update": {"fill": {"signal": "datum.value == 'Gemeten Temperatuur' ? '#cccccc' : '#333333'"}}}
            }
          }
        }
      }
    },
    {
      "data": {"values": [{"v": 0}]},
      "mark": {"type": "rule", "color": "#000000", "strokeWidth": 1.8},
      "encoding": {"y": {"field": "v", "type": "quantitative"}}
    },
    {
      "data": {"name": "main"},
      "mark": {"type": "line", "interpolate": "monotone"},
      "encoding": {
        "x": {"field": "t", "type": "quantitative"},
        "y": {"field": "v", "type": "quantitative"},
        "color": {
          "field": "k", "type": "nominal",
          "legend": {
            "orient": "none", "legendX": 169, "legendY": 342, "direction": "horizontal",
            "title": null, "symbolType": "stroke", "symbolSize": 256, "symbolStrokeWidth": 3,
            "labelFontSize": 10.5, "labelFontWeight": "bold", "labelColor": "#333333",
            "columnPadding": 15, "labelOffset": 4, "padding": 0
          }
        },
        "strokeWidth": {
          "field": "k", "type": "nominal",
          "scale": {"domain": ["Gemiddelde", "Controle", "Oper"], "range": [1.2, 2.6, 2.6]},
          "legend": null
        }
      }
    }
  ]
}
